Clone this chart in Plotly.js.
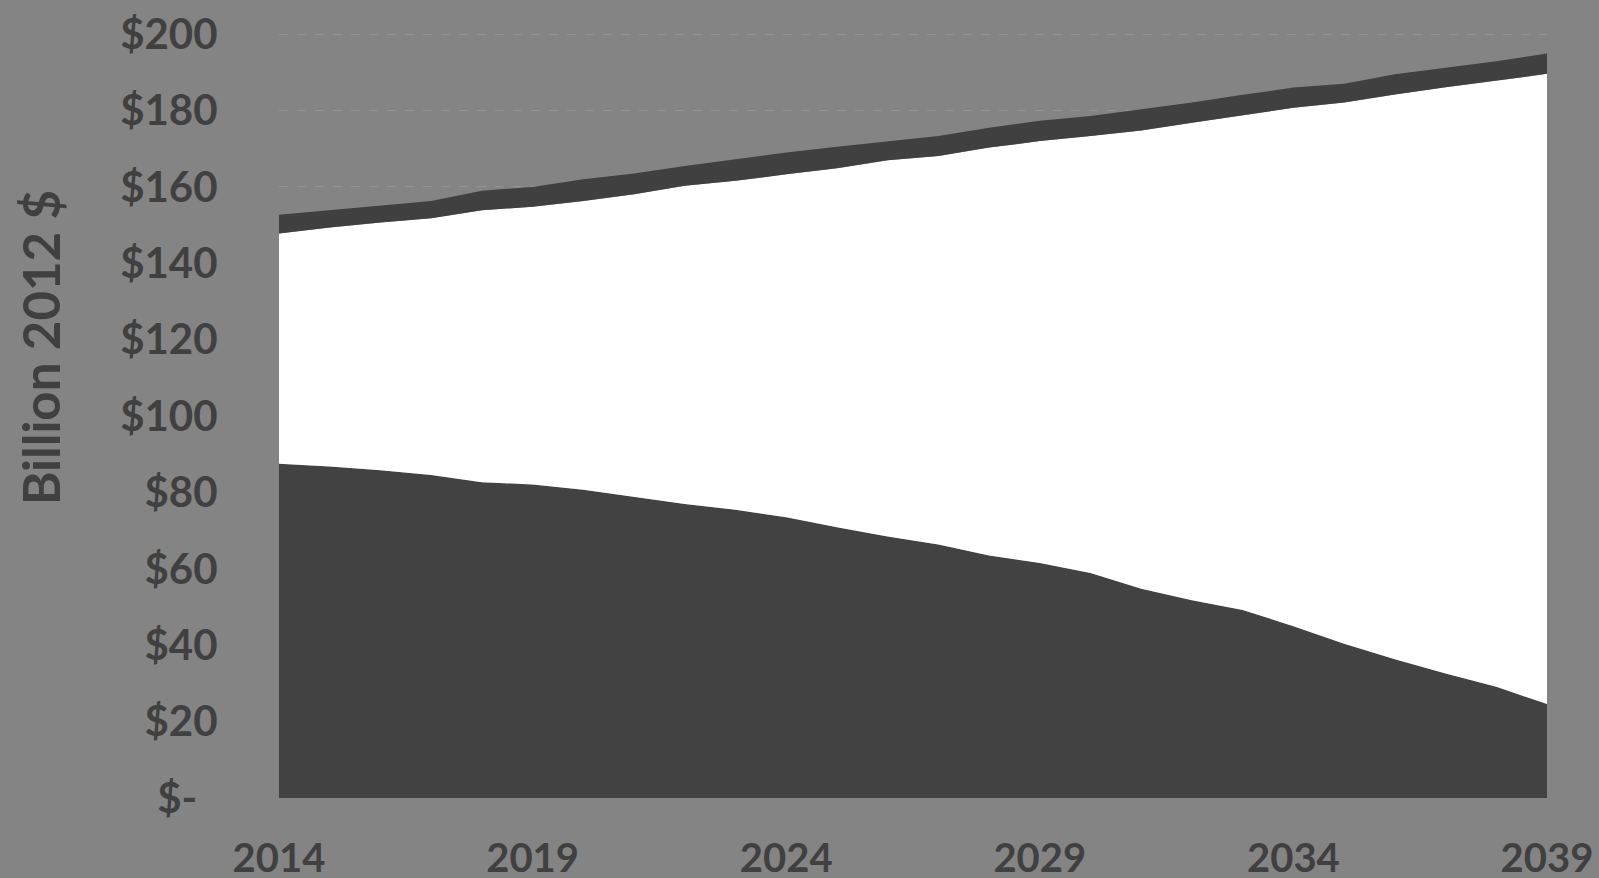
<!DOCTYPE html>
<html>
<head>
<meta charset="utf-8">
<script src="https://cdn.plot.ly/plotly-3.0.1.min.js"></script>
<style>
  html, body { margin: 0; padding: 0; background: #848484; }
  #chart { width: 1599px; height: 878px; }
</style>
</head>
<body>
<div id="chart"></div>
<script>
// Years
const years = [2014, 2015, 2016, 2017, 2018, 2019, 2020, 2021, 2022, 2023, 2024, 2025, 2026,
               2027, 2028, 2029, 2030, 2031, 2032, 2033, 2034, 2035, 2036, 2037, 2038, 2039];

// Bottom series (dark area), billion 2012 $
const seriesBottom = [87.5, 86.8, 85.8, 84.6, 82.7, 82.1, 80.7, 78.8, 77.0, 75.5, 73.5, 70.9, 68.5,
                      66.4, 63.5, 61.5, 58.9, 54.8, 51.8, 49.2, 45.0, 40.4, 36.3, 32.6, 29.1, 24.6];

// Middle series (white area)
const seriesMiddle = [60.3, 62.6, 64.9, 67.2, 71.2, 72.7, 75.6, 79.3, 83.3, 86.1, 89.8, 94.0, 98.5,
                      101.7, 106.8, 110.5, 114.4, 120.0, 125.0, 129.6, 135.7, 141.7, 147.9, 153.5, 158.8, 165.0];

// Top series (thin dark band)
const seriesTop = [4.9, 4.5, 4.3, 4.5, 5.1, 5.2, 5.7, 5.4, 5.2, 5.6, 5.7, 5.6, 5.0,
                   5.2, 5.2, 5.3, 5.3, 5.5, 5.3, 5.3, 5.3, 4.9, 5.3, 5.1, 5.0, 5.3];

// Axis ticks
const xTickVals = [2014, 2019, 2024, 2029, 2034, 2039];
const xTickText = ["2014", "2019", "2024", "2029", "2034", "2039"];
const yTickVals = [0, 20, 40, 60, 80, 100, 120, 140, 160, 180, 200];
const yTickText = ["$-\u00a0\u00a0", "$20", "$40", "$60", "$80", "$100", "$120", "$140", "$160", "$180", "$200"];
const yTitle = "Billion 2012 $";

const textColor = "#404040";
const font = "Lato, 'Open Sans', 'DejaVu Sans', sans-serif";

function area(y, fill) {
  return {
    x: years, y: y, type: "scatter", mode: "lines",
    stackgroup: "one", line: { width: 0, shape: "linear" },
    fillcolor: fill, hoverinfo: "skip", showlegend: false
  };
}

const data = [
  area(seriesBottom, "#424242"),
  area(seriesMiddle, "#ffffff"),
  area(seriesTop, "#404040")
];

const layout = {
  width: 1599, height: 878,
  paper_bgcolor: "#848484", plot_bgcolor: "#848484",
  margin: { l: 279, r: 52, t: 33, b: 80 },
  showlegend: false,
  font: { family: font, color: textColor },
  xaxis: {
    range: [2014, 2039], tickmode: "array", tickvals: xTickVals, ticktext: xTickText,
    ticks: "outside", ticklen: 25, tickcolor: "rgba(0,0,0,0)",
    showgrid: false, zeroline: false, showline: false,
    tickfont: { family: font, size: 40, color: textColor, weight: "bold" }
  },
  yaxis: {
    range: [0, 200.3], tickmode: "array", tickvals: yTickVals, ticktext: yTickText,
    ticks: "outside", ticklen: 52, tickcolor: "rgba(0,0,0,0)",
    showgrid: true, gridcolor: "#939393", gridwidth: 1, griddash: "dash",
    zeroline: false, showline: false,
    tickfont: { family: font, size: 42, color: textColor, weight: "bold" }
  },
  annotations: [{
    text: "<b>" + yTitle + "</b>", textangle: -90,
    xref: "paper", yref: "paper", x: -0.1885, y: 0.5895,
    xanchor: "center", yanchor: "middle", showarrow: false,
    font: { family: font, size: 51, color: textColor }
  }]
};

Plotly.newPlot("chart", data, layout, { displayModeBar: false, staticPlot: true });
</script>
</body>
</html>
